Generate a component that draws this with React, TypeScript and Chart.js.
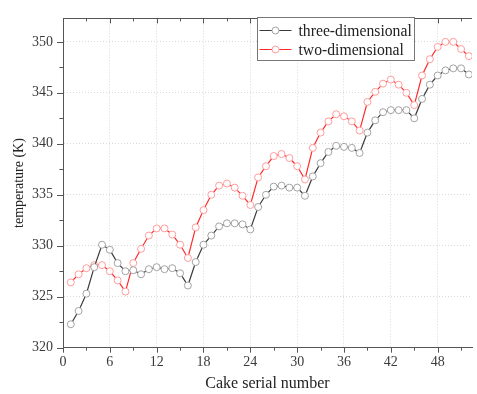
import React, { useEffect, useRef } from "react";
import { Chart, registerables } from "chart.js";

Chart.register(...registerables);

const cakeNumbers = [
  1, 2, 3, 4, 5, 6, 7, 8, 9, 10, 11, 12, 13, 14, 15, 16, 17, 18, 19, 20, 21, 22, 23, 24, 25, 26,
  27, 28, 29, 30, 31, 32, 33, 34, 35, 36, 37, 38, 39, 40, 41, 42, 43, 44, 45, 46, 47, 48, 49, 50, 51, 52,
];

const threeDimensional = [
  322.3, 323.6, 325.3, 327.9, 330.1, 329.6, 328.3, 327.5, 327.6, 327.2, 327.7, 327.9, 327.7, 327.8, 327.3, 326.1,
  328.4, 330.1, 331.0, 331.9, 332.2, 332.2, 332.1, 331.6,
  333.8, 335.0, 335.8, 335.9, 335.7, 335.7, 334.9,
  336.8, 338.1, 339.2, 339.8, 339.7, 339.6, 339.1,
  341.1, 342.3, 343.1, 343.3, 343.3, 343.3, 342.5,
  344.4, 345.8, 346.7, 347.2, 347.4, 347.4, 346.8,
];

const twoDimensional = [
  326.4, 327.2, 327.8, 328.1, 328.1, 327.5, 326.6, 325.5, 328.3, 329.7, 331.0, 331.7, 331.7, 331.1, 330.1, 328.8,
  331.8, 333.5, 335.0, 335.9, 336.1, 335.7, 334.9, 334.0,
  336.7, 337.8, 338.8, 339.0, 338.6, 337.8, 336.5,
  339.6, 341.1, 342.2, 342.9, 342.7, 342.2, 341.3,
  344.1, 345.1, 345.9, 346.3, 345.8, 345.0, 343.8,
  346.7, 348.3, 349.5, 350.0, 350.0, 349.3, 348.6,
];

const seriesNames = ["three-dimensional", "two-dimensional"];
const xMajorTicks = [0, 6, 12, 18, 24, 30, 36, 42, 48];
const xMinorTicks = [3, 9, 15, 21, 27, 33, 39, 45, 51];
const yMajorTicks = [320, 325, 330, 335, 340, 345, 350];
const yMinorTicks = [322.5, 327.5, 332.5, 337.5, 342.5, 347.5];

const SERIF = "'Liberation Serif', 'Times New Roman', Times, serif";

const lineColors = ["#3a3a3a", "#ff2a2a"];
const markerColors = ["#a3a3a3", "#ff9c9c"];

export default function App() {
  const ref = useRef<HTMLCanvasElement>(null);

  useEffect(() => {
    if (!ref.current) return;

    const framePlugin = {
      id: "frame",
      afterDraw(chart: any) {
        const { ctx, chartArea: a } = chart;
        const x = chart.scales.x;
        const y = chart.scales.y;
        ctx.save();
        ctx.strokeStyle = "#555";
        ctx.lineWidth = 1;
        ctx.setLineDash([]);
        // top border
        ctx.beginPath();
        ctx.moveTo(a.left, Math.round(a.top) + 0.5);
        ctx.lineTo(a.right, Math.round(a.top) + 0.5);
        ctx.stroke();
        const drawX = (vals: number[], len: number) => {
          vals.forEach((v) => {
            const px = Math.round(x.getPixelForValue(v)) + 0.5;
            if (px > a.right + 1) return;
            ctx.beginPath();
            ctx.moveTo(px, a.bottom);
            ctx.lineTo(px, a.bottom + len);
            ctx.moveTo(px, a.top);
            ctx.lineTo(px, a.top + len);
            ctx.stroke();
          });
        };
        drawX(xMajorTicks, 5);
        drawX(xMinorTicks, 3);
        const drawY = (vals: number[], len: number) => {
          vals.forEach((v) => {
            const py = Math.round(y.getPixelForValue(v)) + 0.5;
            ctx.beginPath();
            ctx.moveTo(a.left, py);
            ctx.lineTo(a.left - len, py);
            ctx.stroke();
          });
        };
        drawY(yMajorTicks, 6);
        drawY(yMinorTicks, 3.5);

        // legend
        const bx = 257.5, by = 17.5, bw = 157, bh = 43;
        ctx.fillStyle = "#fff";
        ctx.fillRect(bx, by, bw, bh);
        ctx.strokeStyle = "#777";
        ctx.strokeRect(bx, by, bw, bh);
        ctx.font = `15.7px ${SERIF}`;
        ctx.textBaseline = "middle";
        ctx.textAlign = "left";
        seriesNames.forEach((name, i) => {
          const cy = 30.5 + i * 19;
          ctx.strokeStyle = lineColors[i];
          ctx.lineWidth = 1.2;
          ctx.beginPath();
          ctx.moveTo(bx + 2, cy);
          ctx.lineTo(bx + 34, cy);
          ctx.stroke();
          ctx.beginPath();
          ctx.arc(bx + 18, cy, 3.5, 0, Math.PI * 2);
          ctx.fillStyle = "#fff";
          ctx.fill();
          ctx.strokeStyle = markerColors[i];
          ctx.lineWidth = 1;
          ctx.stroke();
          ctx.fillStyle = "#222";
          ctx.fillText(name, bx + 41, cy + 1);
        });
        ctx.restore();
      },
    };

    const makeData = (vals: number[]) => cakeNumbers.map((n, i) => ({ x: n, y: vals[i] }));

    const chart = new Chart(ref.current, {
      type: "line",
      data: {
        datasets: [
          {
            label: seriesNames[0],
            data: makeData(threeDimensional),
            borderColor: lineColors[0],
            borderWidth: 1.2,
            pointRadius: 3.5,
            pointBorderWidth: 1,
            pointBorderColor: markerColors[0],
            pointBackgroundColor: "#fff",
            tension: 0,
          },
          {
            label: seriesNames[1],
            data: makeData(twoDimensional),
            borderColor: lineColors[1],
            borderWidth: 1.2,
            pointRadius: 3.5,
            pointBorderWidth: 1,
            pointBorderColor: markerColors[1],
            pointBackgroundColor: "#fff",
            tension: 0,
          },
        ],
      },
      options: {
        animation: false,
        responsive: false,
        devicePixelRatio: 1,
        layout: { padding: { top: 12, right: 1, left: 0, bottom: 0 } },
        plugins: {
          legend: { display: false },
          tooltip: { enabled: false },
        },
        scales: {
          x: {
            type: "linear",
            min: 0,
            max: 52.4,
            afterFit: (s: any) => {
              s.height = 46.3;
            },
            afterBuildTicks: (s: any) => {
              s.ticks = xMajorTicks.map((v) => ({ value: v }));
            },
            ticks: {
              includeBounds: false,
              padding: 6,
              color: "#3a3a3a",
              font: { family: SERIF, size: 14 },
              maxRotation: 0,
            },
            grid: { color: "#dadada", drawTicks: false, lineWidth: 1 },
            border: { display: true, color: "#555", width: 1, dash: [1, 2] },
            title: {
              display: true,
              text: "Cake serial number",
              color: "#222",
              font: { family: SERIF, size: 16 },
              padding: { top: 0, bottom: 1 },
            },
          },
          y: {
            type: "linear",
            min: 320,
            max: 352.3,
            afterFit: (s: any) => {
              s.width = 63;
            },
            afterBuildTicks: (s: any) => {
              s.ticks = yMajorTicks.map((v) => ({ value: v }));
            },
            ticks: {
              includeBounds: false,
              padding: 10,
              color: "#3a3a3a",
              font: { family: SERIF, size: 14 },
            },
            grid: { color: "#dadada", drawTicks: false, lineWidth: 1 },
            border: { display: true, color: "#555", width: 1, dash: [1, 2] },
            title: {
              display: true,
              text: "temperature (K)",
              color: "#222",
              font: { family: SERIF, size: 14 },
              padding: { top: 11, bottom: 0 },
            },
          },
        },
      },
      plugins: [framePlugin],
    });

    return () => chart.destroy();
  }, []);

  return (
    <div style={{ position: "fixed", left: 0, top: 0, width: 477, height: 394, background: "#fff" }}>
      <canvas ref={ref} width={477} height={394} />
    </div>
  );
}
